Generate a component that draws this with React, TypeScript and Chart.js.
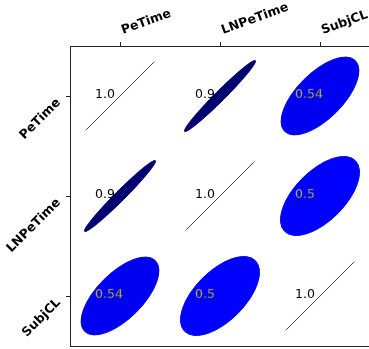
import React, { useEffect, useRef } from "react";
import { Chart, registerables } from "chart.js";

Chart.register(...registerables);

// ---- data ----
const variables = ["PeTime", "LNPeTime", "SubjCL"];
const rowPeTime = [1.0, 0.9, 0.54];
const rowLNPeTime = [0.9, 1.0, 0.5];
const rowSubjCL = [0.54, 0.5, 1.0];
const corrRows = [rowPeTime, rowLNPeTime, rowSubjCL];

const FONT = "'DejaVu Sans', 'Liberation Sans', sans-serif";

// matplotlib "seismic_r" colormap over [-1, 1]
function seismicR(r: number): string {
  const s = 1 - (r + 1) / 2;
  const stops: [number, number, number, number][] = [
    [0, 0, 0, 0.3],
    [0.25, 0, 0, 1],
    [0.5, 1, 1, 1],
    [0.75, 1, 0, 0],
    [1, 0.5, 0, 0],
  ];
  for (let i = 0; i < stops.length - 1; i++) {
    const a = stops[i];
    const b = stops[i + 1];
    if (s >= a[0] && s <= b[0]) {
      const t = (s - a[0]) / (b[0] - a[0]);
      const c = [1, 2, 3].map((k) => Math.round(255 * (a[k] + (b[k] - a[k]) * t)));
      return `rgb(${c[0]},${c[1]},${c[2]})`;
    }
  }
  return "rgb(0,0,77)";
}

function fmt(v: number): string {
  return Number.isInteger(v) ? v.toFixed(1) : String(v);
}

const ellipsePlugin = {
  id: "corrEllipses",
  afterDatasetsDraw(chart: any) {
    const ctx = chart.ctx;
    const xs = chart.scales.x;
    const ys = chart.scales.y;
    const pts = chart.data.datasets[0].data as { x: number; y: number; r: number }[];
    const unitX = Math.abs(xs.getPixelForValue(1) - xs.getPixelForValue(0));
    const unitY = Math.abs(ys.getPixelForValue(1) - ys.getPixelForValue(0));
    const unit = Math.min(unitX, unitY);
    ctx.save();
    for (const p of pts) {
      const px = xs.getPixelForValue(p.x);
      const py = ys.getPixelForValue(p.y);
      const a = 0.5 * unit;
      const b = 0.5 * unit * (1 - Math.abs(p.r));
      const ang = p.r >= 0 ? -Math.PI / 4 : Math.PI / 4;
      const col = seismicR(p.r);
      ctx.beginPath();
      if (b > 0.5) {
        ctx.ellipse(px, py, a, b, ang, 0, Math.PI * 2);
        ctx.fillStyle = col;
        ctx.strokeStyle = col;
        ctx.lineWidth = 1;
        ctx.fill();
        ctx.stroke();
      } else {
        const aa = a * 0.97;
        const dx = aa * Math.cos(ang);
        const dy = aa * Math.sin(ang);
        ctx.moveTo(px - dx, py - dy);
        ctx.lineTo(px + dx, py + dy);
        ctx.strokeStyle = "rgb(20,20,120)";
        ctx.lineWidth = 0.8;
        ctx.stroke();
      }
    }
    // value texts
    ctx.font = `12.5px ${FONT}`;
    ctx.textAlign = "left";
    ctx.textBaseline = "alphabetic";
    for (const p of pts) {
      const px = xs.getPixelForValue(p.x);
      const py = ys.getPixelForValue(p.y);
      const tx = px - 0.25 * unit;
      const ty = py + 2;
      const txt = fmt(p.r);
      if (Math.abs(p.r) >= 0.8) {
        ctx.fillStyle = "#000";
        ctx.fillText(txt, tx, ty);
      } else {
        ctx.fillStyle = "#d8d8d8";
        ctx.fillText(txt, tx, ty);
        ctx.strokeStyle = "#444";
        ctx.lineWidth = 0.6;
        ctx.strokeText(txt, tx, ty);
      }
    }
    ctx.restore();
  },
  afterDraw(chart: any) {
    const ctx = chart.ctx;
    const xs = chart.scales.x;
    const ys = chart.scales.y;
    const area = chart.chartArea;
    ctx.save();
    ctx.font = `bold 12.5px ${FONT}`;
    ctx.fillStyle = "#000";
    // top labels
    variables.forEach((name, i) => {
      const px = xs.getPixelForValue(i);
      ctx.save();
      ctx.translate(px + 3, area.top - 12);
      ctx.rotate((-20 * Math.PI) / 180);
      ctx.textAlign = "left";
      ctx.textBaseline = "alphabetic";
      ctx.fillText(name, 0, 0);
      ctx.restore();
    });
    // left labels
    variables.forEach((name, i) => {
      const py = ys.getPixelForValue(i);
      ctx.save();
      ctx.translate(area.left - 9, py + 7);
      ctx.rotate((-45 * Math.PI) / 180);
      ctx.textAlign = "right";
      ctx.textBaseline = "alphabetic";
      ctx.fillText(name, 0, 0);
      ctx.restore();
    });
    ctx.restore();
  },
};

export default function App() {
  const ref = useRef<HTMLCanvasElement | null>(null);
  useEffect(() => {
    if (!ref.current) return;
    const points: { x: number; y: number; r: number }[] = [];
    corrRows.forEach((row, ri) => {
      row.forEach((v, ci) => points.push({ x: ci, y: ri, r: v }));
    });
    const tickFix = (s: any) => {
      s.ticks = variables.map((_, i) => ({ value: i }));
    };
    const chart = new Chart(ref.current, {
      type: "scatter",
      data: {
        datasets: [
          {
            data: points as any,
            pointRadius: 0,
            pointHoverRadius: 0,
            showLine: false,
          },
        ],
      },
      options: {
        responsive: false,
        animation: false,
        events: [],
        layout: { padding: 0 },
        plugins: { legend: { display: false }, tooltip: { enabled: false } },
        scales: {
          x: {
            type: "linear",
            position: "top",
            min: -0.5,
            max: 2.5,
            afterBuildTicks: tickFix,
            afterFit: (s: any) => {
              s.height = 46;
            },
            ticks: { display: false },
            grid: {
              drawOnChartArea: false,
              drawTicks: true,
              tickLength: 4,
              color: "#222",
              lineWidth: 1,
            },
            border: { display: true, color: "#222", width: 1 },
          },
          x2: {
            type: "linear",
            position: "bottom",
            min: -0.5,
            max: 2.5,
            afterBuildTicks: tickFix,
            afterFit: (s: any) => {
              s.height = 3;
            },
            ticks: { display: false },
            grid: { drawOnChartArea: false, drawTicks: false },
            border: { display: true, color: "#222", width: 1 },
          },
          y: {
            type: "linear",
            position: "left",
            reverse: true,
            min: -0.5,
            max: 2.5,
            afterBuildTicks: tickFix,
            afterFit: (s: any) => {
              s.width = 70;
            },
            ticks: { display: false },
            grid: {
              drawOnChartArea: false,
              drawTicks: true,
              tickLength: 4,
              color: "#222",
              lineWidth: 1,
            },
            border: { display: true, color: "#222", width: 1 },
          },
        },
      },
      plugins: [ellipsePlugin],
    });
    return () => chart.destroy();
  }, []);
  return (
    <div
      style={{
        position: "fixed",
        left: 0,
        top: 0,
        width: 369,
        height: 349,
        overflow: "hidden",
        background: "#fff",
      }}
    >
      <canvas ref={ref} width={370} height={349} style={{ display: "block" }} />
    </div>
  );
}
